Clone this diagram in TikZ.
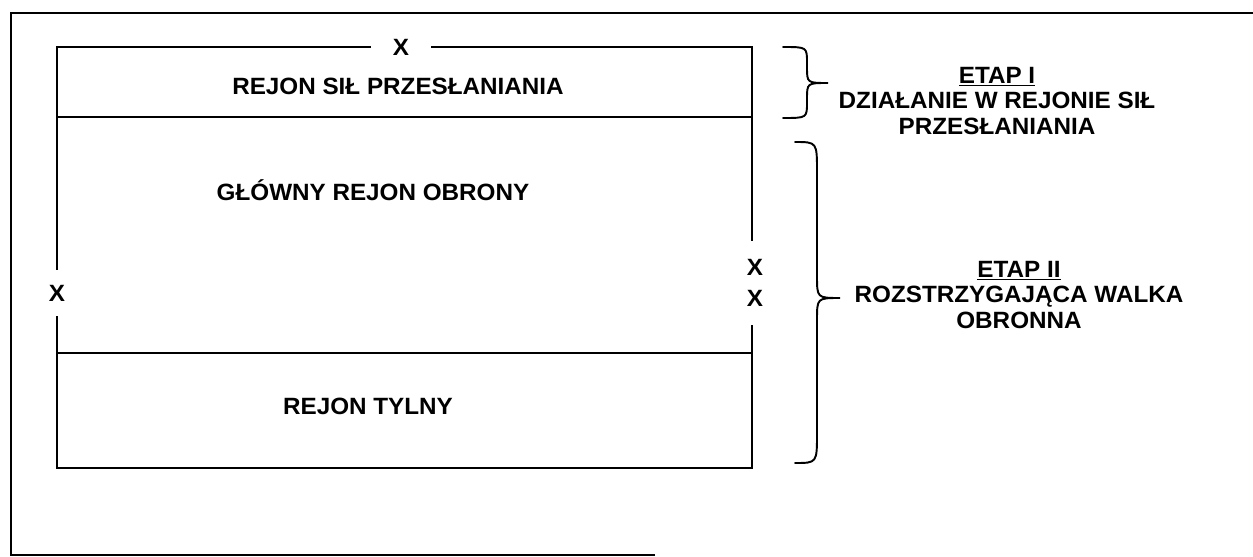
\documentclass[tikz,border=0pt]{standalone}
\usepackage{fontspec}
\setmainfont[FakeStretch=1.03]{Liberation Sans}

\tikzset{
    region text/.style={font=\bfseries\fontsize{13.4}{14.7}\selectfont, inner sep=0pt},
    cross/.style={region text, fill=white, inner sep=0pt},
    thick line/.style={line width=1.1pt},
    stage brace/.style={line width=1.1pt, line cap=round}
}

\begin{document}
\begin{tikzpicture}[x=0.02cm, y=-0.02cm]
    \useasboundingbox (0,0) rectangle (1253,557);
    % outer frame
    \coordinate (fbr) at (655,555);
    \coordinate (fbl) at (11,555);
    \coordinate (ftl) at (11,13);
    \coordinate (ftr) at (1253,13);
    \draw[thick line] (fbr) -- (fbl) -- (ftl) -- (ftr);

    % the defence area
    \coordinate (nw) at (57,47);
    \coordinate (se) at (752,468);
    \coordinate (w1) at (57,117);
    \coordinate (e1) at (752,117);
    \coordinate (w2) at (57,353);
    \coordinate (e2) at (752,353);
    \draw[thick line] (nw) rectangle (se);
    \draw[thick line] (w1) -- (e1);
    \draw[thick line] (w2) -- (e2);

    \node[cross, minimum width=34pt, minimum height=10pt] (xtop) at (401,47) {X};
    \node[cross, minimum width=12pt, minimum height=26pt] (xleft) at (57,293) {X};
    \node[cross, align=center, font=\bfseries\fontsize{13.4}{18}\selectfont,
          minimum width=12pt, minimum height=48pt] (xright) at (755,283) {X\\X};

    \node[region text] (cover) at (398,86) {REJON SIŁ PRZESŁANIANIA};
    \node[region text] (mainarea) at (373,190) {GŁÓWNY REJON OBRONY};
    \node[region text] (rear) at (368,406) {REJON TYLNY};

    % stages
    \draw[stage brace] (783,47) .. controls (807,47) .. (807,63) -- (807,67)
        .. controls (807,83) .. (828,83) .. controls (807,83) .. (807,99)
        -- (807,102) .. controls (807,118) .. (783,118);
    \draw[stage brace] (795,142) .. controls (817,142) .. (817,172) -- (817,276)
        .. controls (817,298) .. (840,298) .. controls (817,298) .. (817,320)
        -- (817,433) .. controls (817,463) .. (795,463);

    \node[region text, align=center] (stage1) at (997,101)
        {\underline{ETAP I}\\DZIAŁANIE W REJONIE SIŁ\\PRZESŁANIANIA};
    \node[region text, align=center] (stage2) at (1019,295)
        {\underline{ETAP II}\\ROZSTRZYGAJĄCA WALKA\\OBRONNA};
\end{tikzpicture}
\end{document}
